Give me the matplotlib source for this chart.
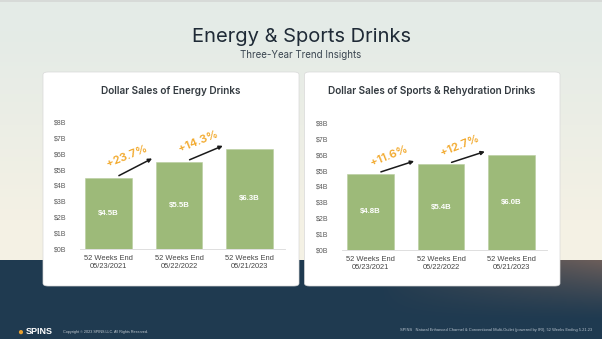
import numpy as np
import matplotlib
matplotlib.use('Agg')
import matplotlib.pyplot as plt
from matplotlib.patches import FancyBboxPatch

# data
periods = ["52 Weeks End\n05/23/2021", "52 Weeks End\n05/22/2022", "52 Weeks End\n05/21/2023"]
energy_sales = [4.5, 5.5, 6.3]
sports_sales = [4.8, 5.4, 6.0]
energy_growth = [23.7, 14.3]
sports_growth = [11.6, 12.7]
yticks = [0, 1, 2, 3, 4, 5, 6, 7, 8]
ytick_labels = ["$%dB" % t for t in yticks]

W, H = 602, 339
bar_color = "#9dba79"
orange = "#f2a92c"
title_font = ["Inter", "DejaVu Sans"]
body_font = ["Liberation Sans", "DejaVu Sans"]

fig = plt.figure(figsize=(W / 100, H / 100), dpi=100)


def fx(px):
    return px / W


def fy(py):
    return 1 - py / H


# background: pale sky over a dark navy ground
yy, xx = np.mgrid[0:H, 0:W]
top = np.array([228, 235, 231]) / 255
mid = np.array([244, 241, 228]) / 255
t = np.clip((yy - 30) / 190, 0, 1)[..., None]
sky = top * (1 - t) + mid * t
navy = np.array([31, 58, 80]) / 255
brown = np.array([108, 94, 90]) / 255
w = (np.clip((xx - 380) / 222, 0, 1) ** 0.8 * np.clip(1 - (yy - 260) / 60, 0, 1) ** 1.3)[..., None]
ground = navy * (1 - w) + brown * w
bg = np.where((yy < 260)[..., None], sky, ground)
bg[0:2] = np.array([215, 218, 216]) / 255

bgax = fig.add_axes([0, 0, 1, 1])
bgax.imshow(bg, aspect='auto', extent=[0, W, H, 0])
bgax.set_xlim(0, W)
bgax.set_ylim(H, 0)
bgax.axis('off')

# titles
fig.text(0.5, fy(36.5), "Energy & Sports Drinks", ha='center', va='center',
         fontsize=14.5, color="#1f2a36", family=title_font)
fig.text(0.5, fy(55), "Three-Year Trend Insights", ha='center', va='center',
         fontsize=7, color="#3a4550", family=title_font)

# white cards
for x0, x1 in [(43, 299), (304.5, 560)]:
    card = FancyBboxPatch((fx(x0), fy(286)), fx(x1 - x0), (286 - 72) / H,
                          boxstyle="round,pad=0,rounding_size=0.008",
                          transform=fig.transFigure, facecolor="white",
                          edgecolor="#d8d8d8", linewidth=0.5, zorder=2)
    fig.patches.append(card)

panels = [
    ("Dollar Sales of Energy Drinks", energy_sales, energy_growth, 80, 249, 171),
    ("Dollar Sales of Sports & Rehydration Drinks", sports_sales, sports_growth, 342, 250, 432),
]

for title, sales, growth, left, base, tx in panels:
    ax = fig.add_axes([fx(left), fy(base), 205 / W, 127 / H], zorder=3)
    ax.patch.set_alpha(0)
    x = np.arange(len(sales))
    ax.bar(x, sales, width=0.66, color=bar_color, edgecolor="#b9cda0", linewidth=0.4)
    ax.set_xlim(-0.4, 2.5)
    ax.set_ylim(0, 8)
    ax.set_yticks(yticks)
    ax.set_yticklabels(ytick_labels, fontsize=5, color="#5a5a5a", family=body_font)
    ax.set_xticks(x)
    ax.set_xticklabels(periods, fontsize=5.4, color="#444444", family=body_font,
                       linespacing=1.15)
    ax.tick_params(length=0)
    ax.tick_params(axis='x', pad=4.5)
    ax.tick_params(axis='y', pad=10)
    for s in ['top', 'right', 'left']:
        ax.spines[s].set_visible(False)
    ax.spines['bottom'].set_color("#d9d9d9")
    ax.spines['bottom'].set_linewidth(0.6)

    for i, v in enumerate(sales):
        ax.text(i, v / 2, "$%.1fB" % v, ha='center', va='center', color='white',
                fontsize=5.6, fontweight='bold', family=body_font)

    for i, g in enumerate(growth):
        ax.annotate("", xy=(i + 0.62, sales[i + 1] + 0.2), xytext=(i + 0.15, sales[i] + 0.12),
                    arrowprops=dict(arrowstyle='-|>', color="#1a1a1a", lw=1.1,
                                    mutation_scale=5.5, shrinkA=0, shrinkB=0))
        ax.text(i + 0.27, (sales[i] + sales[i + 1]) / 2 + 0.85, "+%.1f%%" % g,
                ha='center', va='center', rotation=22, color=orange,
                fontsize=8.2, fontweight='semibold', family=title_font)

    fig.text(fx(tx), fy(91), title, ha='center', va='center', fontsize=7.2,
             fontweight='semibold', color="#333a40", family=title_font, zorder=4)

# footer
fig.text(fx(20), fy(331.5), "\u25cf", ha='center', va='center', fontsize=7,
         color="#e8a030", family=body_font)
fig.text(fx(26), fy(331.5), "SPINS", ha='left', va='center', fontsize=6.5,
         fontweight='bold', color="white", family=body_font)
fig.text(fx(63), fy(331.5), "Copyright \u00a9 2023 SPINS LLC. All Rights Reserved.",
         ha='left', va='center', fontsize=2.7, color="#c5ccd3", family=body_font)
fig.text(fx(592), fy(330.5),
         "SPINS   Natural Enhanced Channel & Conventional Multi-Outlet (powered by IRI), 52 Weeks Ending 5.21.23",
         ha='right', va='center', fontsize=2.9, color="#b9c4cf", family=body_font)

fig.savefig("out.png", dpi=100)
